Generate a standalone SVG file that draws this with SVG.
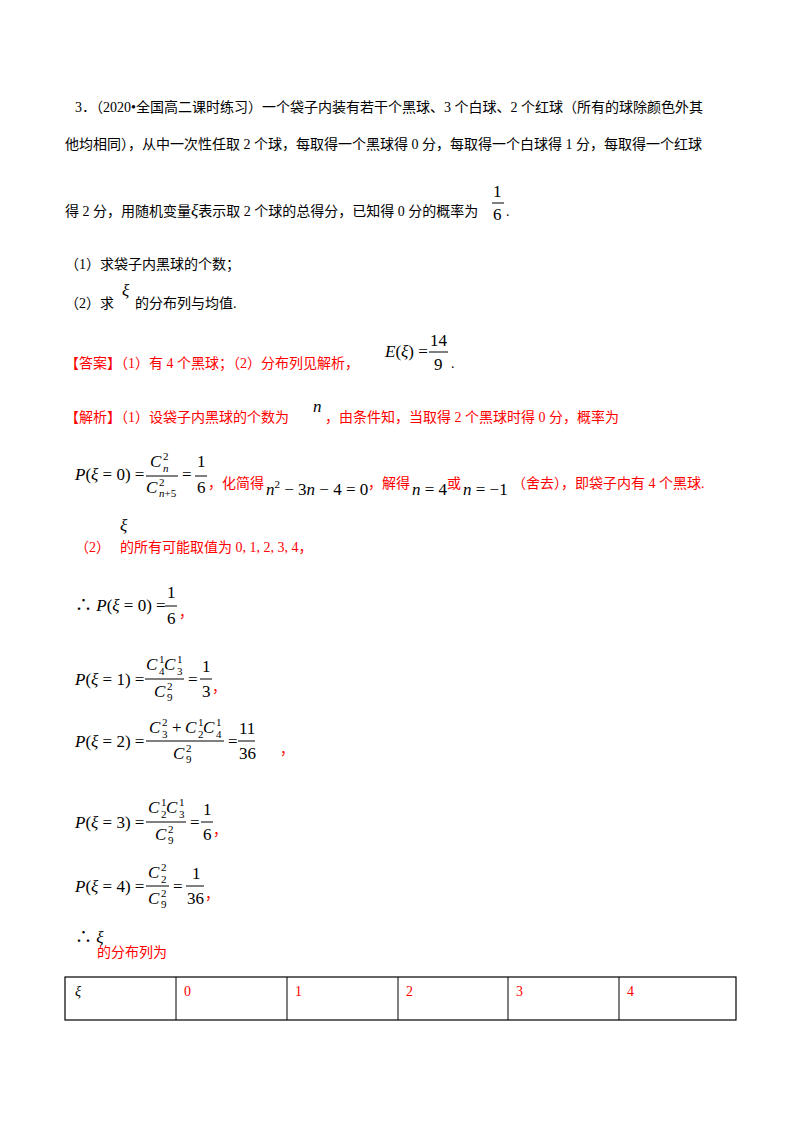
<svg xmlns="http://www.w3.org/2000/svg" width="800" height="1132" viewBox="0 0 800 1132">
<style>
text{font-family:"Liberation Serif","Noto Sans CJK SC",serif;font-size:14px;fill:#000}
.r{fill:#f00}
.m{font-size:17px}
.i{font-style:italic}
.s{font-size:11px}
line{stroke:#000;stroke-width:1}
</style>
<rect width="800" height="1132" fill="#fff"/>
<text x="75" y="112">3．（2020•全国高二课时练习）一个袋子内装有若干个黑球、3 个白球、2 个红球（所有的球除颜色外其</text>
<text x="65" y="149">他均相同），从中一次性任取 2 个球，每取得一个黑球得 0 分，每取得一个白球得 1 分，每取得一个红球</text>
<text x="65" y="216">得 2 分，用随机变量<tspan class="m i">ξ</tspan>表示取 2 个球的总得分，已知得 0 分的概率为</text>
<text x="493" y="197" class="m">1</text><line x1="492" y1="203" x2="504" y2="203"/><text x="493" y="220" class="m">6</text><text x="506" y="216">.</text>
<text x="65" y="269">（1）求袋子内黑球的个数；</text>
<text x="65" y="308">（2）求</text><text x="122" y="296" class="m i">ξ</text><text x="135" y="308">的分布列与均值.</text>
<text x="65" y="368" class="r">【答案】（1）有 4 个黑球；（2）分布列见解析，</text>
<text x="385" y="357" class="m"><tspan class="i">E</tspan>(<tspan class="i">ξ</tspan>) =</text>
<text x="430" y="346" class="m">14</text><line x1="429" y1="352" x2="448" y2="352"/><text x="434" y="370" class="m">9</text><text x="451" y="368">.</text>
<text x="65" y="422" class="r">【解析】（1）设袋子内黑球的个数为</text><text x="313" y="412" class="m i">n</text><text x="325" y="422" class="r">，由条件知，当取得 2 个黑球时得 0 分，概率为</text>
<g>
<text x="75" y="480" class="m"><tspan class="i">P</tspan>(<tspan class="i">ξ</tspan> = 0) =</text>
<text x="150" y="467" class="m i">C</text><text x="163" y="460" class="s">2</text><text x="163" y="472" class="s i">n</text>
<line x1="146" y1="476" x2="178" y2="476"/>
<text x="146" y="493" class="m i">C</text><text x="159" y="486" class="s">2</text><text x="159" y="497" class="s"><tspan class="i">n</tspan>+5</text>
<text x="182" y="480" class="m">=</text>
<text x="197" y="467" class="m">1</text><line x1="195" y1="476" x2="207" y2="476"/><text x="197" y="493" class="m">6</text>
<text x="208" y="488" class="r">，化简得</text>
<text x="266" y="495" class="m"><tspan class="i">n</tspan><tspan class="s" dy="-7">2</tspan><tspan dy="7"> − 3</tspan><tspan class="i">n</tspan> − 4 = 0</text>
<text x="368" y="488" class="r">，解得</text>
<text x="412" y="495" class="m"><tspan class="i">n</tspan> = 4</text>
<text x="447" y="488" class="r">或</text>
<text x="463" y="495" class="m"><tspan class="i">n</tspan> = −1</text>
<text x="512" y="488" class="r">（舍去），即袋子内有 4 个黑球.</text>
</g>
<text x="75" y="552" class="r">（2）</text><text x="120" y="531" class="m i">ξ</text><text x="120" y="552" class="r">的所有可能取值为 0, 1, 2, 3, 4，</text>
<text x="75" y="611" class="m">∴ <tspan class="i">P</tspan>(<tspan class="i">ξ</tspan> = 0) =</text>
<text x="167" y="598" class="m">1</text><line x1="165" y1="606" x2="177" y2="606"/><text x="167" y="624" class="m">6</text><text x="179" y="617" class="r">，</text>
<g>
<text x="75" y="685" class="m"><tspan class="i">P</tspan>(<tspan class="i">ξ</tspan> = 1) =</text>
<text x="146" y="670" class="m i">C</text><text x="159" y="663" class="s">1</text><text x="159" y="675" class="s">4</text><text x="164" y="670" class="m i">C</text><text x="177" y="663" class="s">1</text><text x="177" y="675" class="s">3</text>
<line x1="145" y1="679" x2="184" y2="679"/>
<text x="154" y="697" class="m i">C</text><text x="167" y="690" class="s">2</text><text x="167" y="701" class="s">9</text>
<text x="188" y="685" class="m">=</text>
<text x="202" y="672" class="m">1</text><line x1="200" y1="679" x2="212" y2="679"/><text x="202" y="697" class="m">3</text><text x="212" y="692" class="r">，</text>
</g>
<g>
<text x="75" y="747" class="m"><tspan class="i">P</tspan>(<tspan class="i">ξ</tspan> = 2) =</text>
<text x="149" y="733" class="m i">C</text><text x="162" y="726" class="s">2</text><text x="162" y="738" class="s">3</text>
<text x="172" y="733" class="m">+</text>
<text x="185" y="733" class="m i">C</text><text x="198" y="726" class="s">1</text><text x="198" y="738" class="s">2</text><text x="203" y="733" class="m i">C</text><text x="216" y="726" class="s">1</text><text x="216" y="738" class="s">4</text>
<line x1="146" y1="741" x2="224" y2="741"/>
<text x="173" y="759" class="m i">C</text><text x="186" y="752" class="s">2</text><text x="186" y="763" class="s">9</text>
<text x="228" y="747" class="m">=</text>
<text x="239" y="734" class="m">11</text><line x1="238" y1="741" x2="255" y2="741"/><text x="239" y="759" class="m">36</text>
<text x="280" y="754" class="r">，</text>
</g>
<g>
<text x="75" y="828" class="m"><tspan class="i">P</tspan>(<tspan class="i">ξ</tspan> = 3) =</text>
<text x="148" y="813" class="m i">C</text><text x="161" y="806" class="s">1</text><text x="161" y="818" class="s">2</text><text x="166" y="813" class="m i">C</text><text x="179" y="806" class="s">1</text><text x="179" y="818" class="s">3</text>
<line x1="146" y1="822" x2="186" y2="822"/>
<text x="155" y="840" class="m i">C</text><text x="168" y="833" class="s">2</text><text x="168" y="844" class="s">9</text>
<text x="190" y="828" class="m">=</text>
<text x="203" y="815" class="m">1</text><line x1="201" y1="822" x2="213" y2="822"/><text x="203" y="840" class="m">6</text><text x="213" y="835" class="r">，</text>
</g>
<g>
<text x="75" y="892" class="m"><tspan class="i">P</tspan>(<tspan class="i">ξ</tspan> = 4) =</text>
<text x="148" y="878" class="m i">C</text><text x="161" y="871" class="s">2</text><text x="161" y="883" class="s">2</text>
<line x1="146" y1="886" x2="169" y2="886"/>
<text x="148" y="904" class="m i">C</text><text x="161" y="897" class="s">2</text><text x="161" y="908" class="s">9</text>
<text x="173" y="892" class="m">=</text>
<text x="192" y="879" class="m">1</text><line x1="186" y1="886" x2="204" y2="886"/><text x="187" y="904" class="m">36</text><text x="205" y="899" class="r">，</text>
</g>
<text x="75" y="943" class="m">∴ <tspan class="i">ξ</tspan></text>
<text x="97" y="957" class="r">的分布列为</text>
<g>
<rect x="65" y="977" width="671" height="43" fill="none" stroke="#000" stroke-width="1.2"/>
<line x1="176" y1="977" x2="176" y2="1020"/><line x1="287" y1="977" x2="287" y2="1020"/><line x1="398" y1="977" x2="398" y2="1020"/><line x1="508" y1="977" x2="508" y2="1020"/><line x1="619" y1="977" x2="619" y2="1020"/>
<text x="75" y="996" class="i">ξ</text>
<text x="184" y="996" class="r">0</text><text x="295" y="996" class="r">1</text><text x="406" y="996" class="r">2</text><text x="516" y="996" class="r">3</text><text x="627" y="996" class="r">4</text>
</g>
</svg>
